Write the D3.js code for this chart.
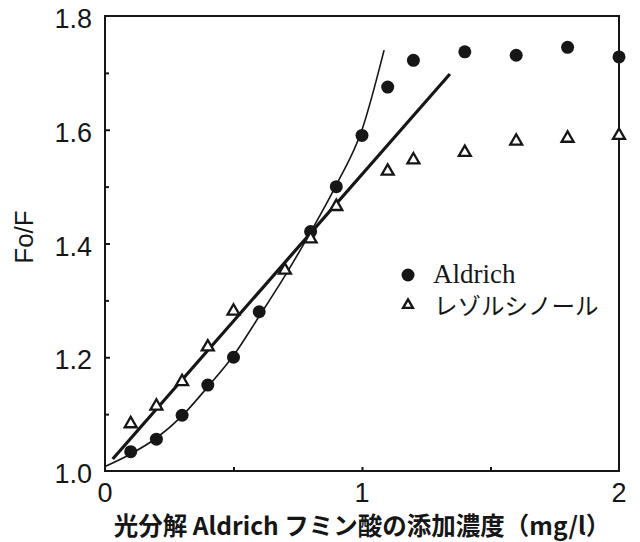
<!DOCTYPE html>
<html>
<head>
<meta charset="utf-8">
<script src="https://cdn.jsdelivr.net/npm/d3@7/dist/d3.min.js"></script>
<style>
  html, body { margin: 0; padding: 0; background: #fff; }
  svg { display: block; }
</style>
</head>
<body>
<svg id="chart" width="640" height="542"></svg>
<script>
// Photodegraded Aldrich humic acid concentration (mg/l)
const aldrichX = [0.1, 0.2, 0.3, 0.4, 0.5, 0.6, 0.8, 0.9, 1.0, 1.1, 1.2, 1.4, 1.6, 1.8, 2.0];
const aldrichY = [1.034, 1.056, 1.098, 1.151, 1.200, 1.280, 1.421, 1.500, 1.590, 1.675, 1.722, 1.737, 1.731, 1.745, 1.728];

const resorcinolX = [0.1, 0.2, 0.3, 0.4, 0.5, 0.7, 0.8, 0.9, 1.1, 1.2, 1.4, 1.6, 1.8, 2.0];
const resorcinolY = [1.083, 1.114, 1.157, 1.218, 1.281, 1.353, 1.408, 1.465, 1.527, 1.547, 1.560, 1.580, 1.585, 1.590];

// Straight fit line (resorcinol) and curved fit (Aldrich)
const lineFitX = [0.03, 1.342];
const lineFitY = [1.021, 1.698];
const curveFitX = [0.0, 0.1, 0.2, 0.3, 0.4, 0.5, 0.6, 0.7, 0.8, 0.9, 1.0, 1.086];
const curveFitY = [1.008, 1.030, 1.058, 1.097, 1.148, 1.203, 1.272, 1.343, 1.420, 1.503, 1.600, 1.740];

const xTicks = [0, 1, 2];
const xTickLabels = ["0", "1", "2"];
const xMinorTicks = [0.5, 1.5];
const yTicks = [1.0, 1.2, 1.4, 1.6, 1.8];
const yTickLabels = ["1.0", "1.2", "1.4", "1.6", "1.8"];
const yMinorTicks = [1.1, 1.3, 1.5, 1.7];

const seriesNames = ["Aldrich", "レゾルシノール"];
const xTitle = "光分解 Aldrich フミン酸の添加濃度（mg/l）";
const yTitle = "Fo/F";

const ink = "#161616";
const svg = d3.select("#chart");
const plot = { left: 105, right: 619, top: 16, bottom: 471 };

const x = d3.scaleLinear().domain([0, 2]).range([plot.left, plot.right]);
const y = d3.scaleLinear().domain([1.0, 1.8]).range([plot.bottom, plot.top]);

// Frame
svg.append("rect")
  .attr("x", plot.left).attr("y", plot.top)
  .attr("width", plot.right - plot.left).attr("height", plot.bottom - plot.top)
  .attr("fill", "none").attr("stroke", ink).attr("stroke-width", 2);

// Inward ticks
const yAxis = d3.axisRight(y).tickValues(yTicks.slice(1, -1)).tickSize(5).tickFormat("");
svg.append("g").attr("transform", `translate(${plot.left},0)`).call(yAxis)
  .call(g => g.select(".domain").remove())
  .selectAll("line").attr("stroke", ink).attr("stroke-width", 2);
const yAxisMinor = d3.axisRight(y).tickValues(yMinorTicks).tickSize(4).tickFormat("");
svg.append("g").attr("transform", `translate(${plot.left},0)`).call(yAxisMinor)
  .call(g => g.select(".domain").remove())
  .selectAll("line").attr("stroke", ink).attr("stroke-width", 2);
const xAxisMinor = d3.axisTop(x).tickValues(xMinorTicks.concat([1])).tickSize(4).tickFormat("");
svg.append("g").attr("transform", `translate(0,${plot.bottom})`).call(xAxisMinor)
  .call(g => g.select(".domain").remove())
  .selectAll("line").attr("stroke", ink).attr("stroke-width", 2);

// Tick labels
const tickFont = "'Liberation Sans', Arial, sans-serif";
svg.append("g").selectAll("text").data(yTicks).join("text")
  .attr("x", 92).attr("y", d => y(d) + 12)
  .attr("text-anchor", "end")
  .attr("font-family", tickFont).attr("font-size", 27).attr("fill", ink)
  .text((d, i) => yTickLabels[i]);
svg.append("g").selectAll("text").data(xTicks).join("text")
  .attr("x", d => x(d)).attr("y", 502)
  .attr("text-anchor", "middle")
  .attr("font-family", tickFont).attr("font-size", 27).attr("fill", ink)
  .text((d, i) => xTickLabels[i]);

// Axis titles
svg.append("text")
  .attr("transform", "translate(33,237) rotate(-90)")
  .attr("text-anchor", "middle")
  .attr("font-family", tickFont).attr("font-size", 26).attr("fill", ink)
  .text(yTitle);
svg.append("text")
  .attr("x", 362).attr("y", 535)
  .attr("text-anchor", "middle")
  .attr("font-family", "'Noto Sans CJK JP', sans-serif").attr("font-weight", 700)
  .attr("font-size", 24.5).attr("fill", ink)
  .text(xTitle);

// Fits
const line = d3.line().x(d => x(d[0])).y(d => y(d[1]));
svg.append("path")
  .datum(lineFitX.map((v, i) => [v, lineFitY[i]]))
  .attr("d", line)
  .attr("fill", "none").attr("stroke", ink).attr("stroke-width", 3.2);
svg.append("path")
  .datum(curveFitX.map((v, i) => [v, curveFitY[i]]))
  .attr("d", line.curve(d3.curveMonotoneX))
  .attr("fill", "none").attr("stroke", ink).attr("stroke-width", 1.6);

// Markers
svg.append("g").selectAll("circle")
  .data(aldrichX.map((v, i) => [v, aldrichY[i]])).join("circle")
  .attr("cx", d => x(d[0])).attr("cy", d => y(d[1])).attr("r", 6.5)
  .attr("fill", ink);

const tri = d3.symbol(d3.symbolTriangle, 62);
svg.append("g").selectAll("path")
  .data(resorcinolX.map((v, i) => [v, resorcinolY[i]])).join("path")
  .attr("transform", d => `translate(${x(d[0])},${y(d[1])})`)
  .attr("d", tri)
  .attr("fill", "#fff").attr("stroke", ink).attr("stroke-width", 2.3);

// Legend
const legend = svg.append("g");
legend.append("circle").attr("cx", 408).attr("cy", 275).attr("r", 6.5).attr("fill", ink);
legend.append("path").attr("transform", "translate(408,305)")
  .attr("d", d3.symbol(d3.symbolTriangle, 42))
  .attr("fill", "#fff").attr("stroke", ink).attr("stroke-width", 2.4);
legend.append("text").attr("x", 433).attr("y", 283)
  .attr("font-family", "'Liberation Serif', 'Times New Roman', serif")
  .attr("font-size", 27).attr("fill", ink).text(seriesNames[0]);
legend.append("text").attr("x", 434).attr("y", 315)
  .attr("font-family", "'Noto Sans CJK JP', sans-serif")
  .attr("font-size", 23.5).attr("fill", ink).text(seriesNames[1]);
</script>
</body>
</html>
